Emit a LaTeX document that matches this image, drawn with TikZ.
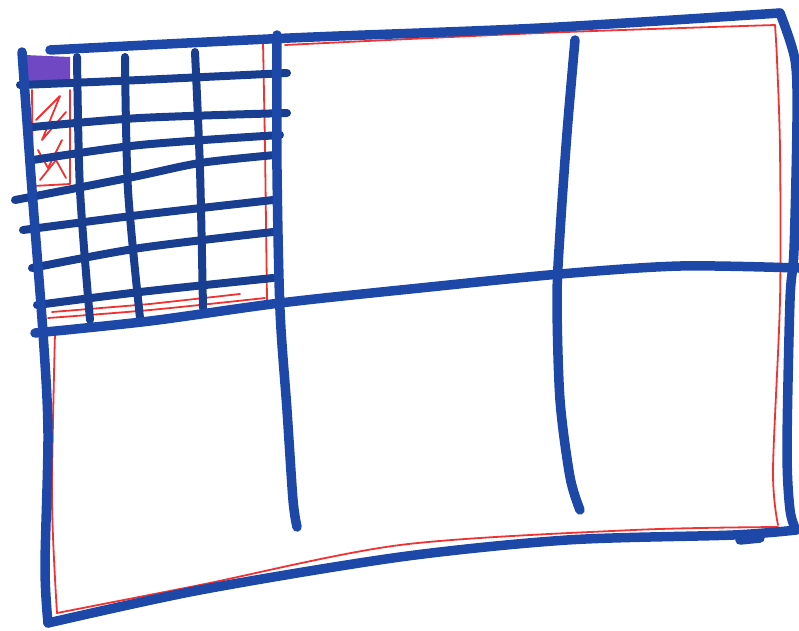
\documentclass[tikz,border=0pt]{standalone}
\definecolor{pen}{RGB}{30,72,168}
\definecolor{penred}{RGB}{240,50,50}
\definecolor{penpurple}{RGB}{112,72,196}
\tikzset{
  blueline/.style={pen, line width=9.5pt, line cap=round, line join=round},
  gridline/.style={pen!85!black, line width=8pt, line cap=round, line join=round},
  redline/.style={penred, line width=1.8pt, line cap=round, line join=round},
}
\begin{document}
\begin{tikzpicture}[x=1pt,y=-1pt]
\useasboundingbox (0,0) rectangle (799,630);
% red inner outlines
\draw[redline] plot[smooth] coordinates {(285,45) (540,33) (775,25)};
\draw[redline] plot[smooth] coordinates {(775,25) (777,60) (780,150) (780,300) (773,470) (778,525)};
\draw[redline] plot[smooth] coordinates {(778,527) (633,530) (400,545) (200,585) (57,613)};
\draw[redline] plot[smooth] coordinates {(57,613) (52,500) (55,333)};
\draw[redline] plot[smooth] coordinates {(263,42) (265,150) (267,300)};
\draw[redline] plot[smooth] coordinates {(48,318) (150,310) (265,298)};
\draw[redline] (52,312) -- (150,304) -- (240,294);
\draw[redline] (32,90) -- (33,186) -- (70,184) -- (70,90);
\draw[redline] (36,120) -- (60,96) -- (42,140) -- (66,112);
\draw[redline] (38,150) -- (48,168) -- (62,140);
\draw[redline] (40,180) -- (56,160) -- (66,178);
% purple cell
\fill[penpurple] (25,55) -- (70,57) -- (70,85) -- (27,87) -- cycle;
% grid in top-left cell
\draw[gridline] plot[smooth] coordinates {(77,57) (80,190) (90,320)};
\draw[gridline] plot[smooth] coordinates {(125,57) (128,190) (140,318)};
\draw[gridline] plot[smooth] coordinates {(195,52) (200,170) (203,308)};
\draw[gridline] plot[smooth] coordinates {(20,85) (140,80) (287,73)};
\draw[gridline] plot[smooth] coordinates {(33,127) (140,118) (287,113)};
\draw[gridline] plot[smooth] coordinates {(33,160) (140,145) (280,135)};
\draw[gridline] plot[smooth] coordinates {(15,200) (133,177) (200,163) (275,155)};
\draw[gridline] plot[smooth] coordinates {(23,230) (140,215) (273,200)};
\draw[gridline] plot[smooth] coordinates {(32,268) (140,248) (273,232)};
\draw[gridline] plot[smooth] coordinates {(37,305) (140,292) (273,278)};
% outer frame
\draw[blueline] plot[smooth] coordinates {(50,50) (290,38) (540,28) (780,13)};
\draw[blueline] plot[smooth] coordinates {(780,13) (795,60) (797,120) (794,250) (790,300) (787,450) (790,510) (796,530)};
\draw[blueline] plot[smooth] coordinates {(796,530) (733,535) (567,540) (400,557) (200,590) (48,623)};
\draw[blueline] plot[smooth] coordinates {(48,623) (45,567) (48,433) (43,333) (32,190) (22,52)};
\draw[blueline] (740,540) -- (760,538);
% middle horizontal
\draw[blueline] plot[smooth] coordinates {(35,333) (150,321) (280,303) (420,288) (560,274) (680,266) (799,268)};
% column dividers
\draw[blueline] plot[smooth] coordinates {(277,35) (277,170) (280,310) (287,410) (293,500) (297,527)};
\draw[blueline] plot[smooth] coordinates {(575,40) (567,133) (560,233) (557,300) (560,400) (570,477) (580,510)};
\end{tikzpicture}
\end{document}
